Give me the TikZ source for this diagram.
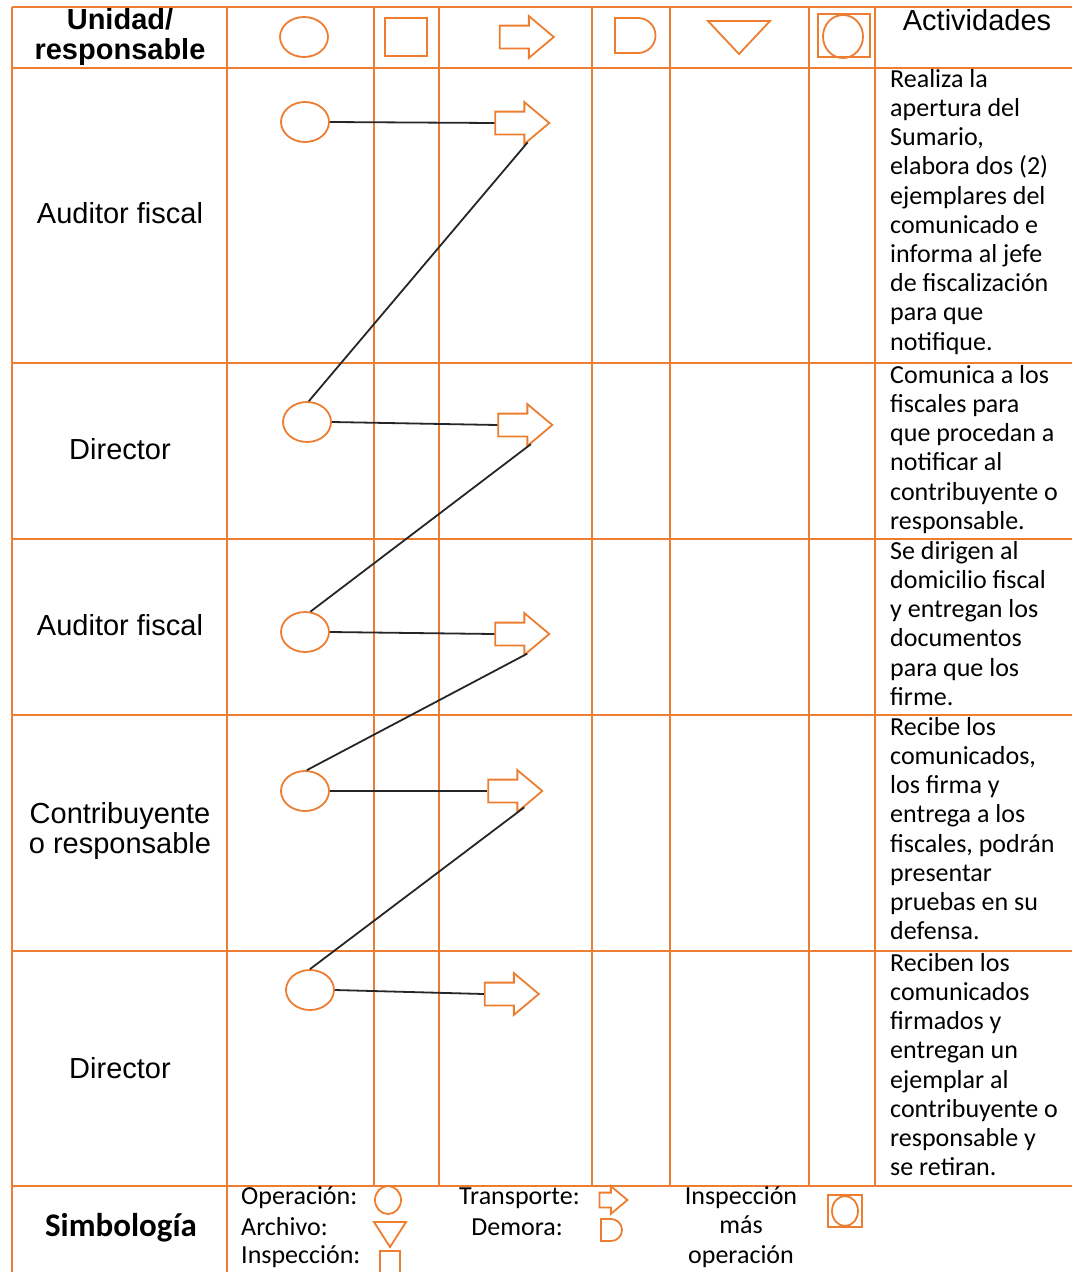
\documentclass[tikz,border=0pt]{standalone}
\usepackage{fontspec}
\setmainfont{Liberation Sans}
\newfontfamily\calibri{Carlito}
\usetikzlibrary{shapes.geometric,shapes.arrows}
\definecolor{naranja}{RGB}{237,125,49}
\definecolor{trazo}{RGB}{38,38,38}
\begin{document}
\begin{tikzpicture}[x=1pt,y=-1pt,
  rejilla/.style={naranja,line width=2.4pt},
  simbolo/.style={draw=naranja,line width=1.8pt,inner sep=0pt},
  operacion/.style={simbolo,ellipse,minimum width=48pt,minimum height=40pt},
  transporte/.style={simbolo,single arrow,minimum height=54pt,inner xsep=0pt,inner ysep=10.5pt,
    single arrow head extend=9.5pt,single arrow tip angle=80},
  enlace/.style={trazo,line width=1.8pt},
  unidad/.style={align=center,font=\fontsize{29}{30}\selectfont},
  actividad/.style={anchor=north west,inner sep=0pt,align=left,font=\calibri\fontsize{26}{29.2}\selectfont},
  leyenda/.style={inner sep=0pt,font=\calibri\fontsize{26}{29.5}\selectfont}]
  \useasboundingbox (0,0) rectangle (1072,1272);
  % table lines
  \foreach \x in {374,439,592,670,809,875}
    \draw[rejilla] (\x,7) -- (\x,1186);
  \foreach \x in {12,227}
    \draw[rejilla] (\x,7) -- (\x,1272);
  \foreach \y in {7,68,363,539,715,951,1186}
    \draw[rejilla] (12,\y) -- (1072,\y);
  % header row
  \node[unidad,font=\bfseries\fontsize{29}{30}\selectfont] (cab) at (120,37) {Unidad/\\responsable};
  \node[operacion] (cabop) at (304,37) {};
  \node[simbolo,rectangle,minimum width=42pt,minimum height=38pt] (cabin) at (406,37) {};
  \node[transporte] (cabtr) at (520,37) {};
  \draw[naranja,line width=1.8pt] (615,18) -- (638,18) arc[start angle=90,end angle=-90,radius=17.5pt] -- (615,53) -- cycle;
  \draw[naranja,line width=1.8pt] (708,21) -- (770,21) -- (739,54) -- cycle;
  \node[simbolo,rectangle,minimum width=52pt,minimum height=43pt] (cabio) at (844,35.5) {};
  \node[simbolo,ellipse,minimum width=40pt,minimum height=43pt] (cabio2) at (843,36.5) {};
  \node[unidad] (act) at (977,20) {Actividades};
  % units
  \node[unidad] (u1) at (120,213) {Auditor fiscal};
  \node[unidad] (u2) at (120,449) {Director};
  \node[unidad] (u3) at (120,625) {Auditor fiscal};
  \node[unidad] (u4) at (120,831) {Contribuyente\\o responsable};
  \node[unidad] (u5) at (120,1068) {Director};
  % operations and transports
  \node[operacion] (op1) at (305,122) {};
  \node[transporte] (tr1) at (515.5,123) {};
  \node[operacion] (op2) at (307,422) {};
  \node[transporte] (tr2) at (518.5,425) {};
  \node[operacion] (op3) at (305,632) {};
  \node[transporte] (tr3) at (515.5,634) {};
  \node[operacion] (op4) at (305,791) {};
  \node[transporte] (tr4) at (508.5,791) {};
  \node[operacion] (op5) at (310,990) {};
  \node[transporte] (tr5) at (505,994) {};
  \foreach \i in {1,...,5}
    \draw[enlace] (op\i.east) -- (tr\i.west);
  \draw[enlace] (op2.85) -- (tr1.-58);
  \draw[enlace] (op3.75) -- (tr2.-57);
  \draw[enlace] (op4.85) -- (tr3.-59);
  \draw[enlace] (op5.90) -- (tr4.-46);
  % activities
  \node[actividad] (a1) at (890,69) {Realiza la\\apertura del\\Sumario,\\elabora dos (2)\\ejemplares del\\comunicado e\\informa al jefe\\de fiscalización\\para que\\notifique.};
  \node[actividad] (a2) at (890,365) {Comunica a los\\fiscales para\\que procedan a\\notificar al\\contribuyente o\\responsable.};
  \node[actividad] (a3) at (890,541) {Se dirigen al\\domicilio fiscal\\y entregan los\\documentos\\para que los\\firme.};
  \node[actividad] (a4) at (890,717) {Recibe los\\comunicados,\\los firma y\\entrega a los\\fiscales, podrán\\presentar\\pruebas en su\\defensa.};
  \node[actividad] (a5) at (890,953) {Reciben los\\comunicados\\firmados y\\entregan un\\ejemplar al\\contribuyente o\\responsable y\\se retiran.};
  % symbols row
  \node[font=\calibri\bfseries\fontsize{33}{34}\selectfont] (simb) at (121,1228) {Simbología};
  \node[leyenda,anchor=west] (lop) at (241,1198) {Operación:};
  \node[leyenda,anchor=west] (lar) at (241,1227) {Archivo:};
  \node[leyenda,anchor=west] (lin) at (241,1257) {Inspección:};
  \node[simbolo,ellipse,minimum width=26pt,minimum height=28pt] (sop) at (388,1200) {};
  \draw[naranja,line width=1.8pt] (374,1222) -- (406,1222) -- (390,1247) -- cycle;
  \draw[naranja,line width=1.8pt] (380,1276) -- (380,1251) -- (400,1251) -- (400,1276);
  \node[leyenda,anchor=east] (ltr) at (580,1198) {Transporte:};
  \node[leyenda,anchor=east] (lde) at (563,1227) {Demora:};
  \node[simbolo,single arrow,minimum height=28pt,inner xsep=0pt,inner ysep=6.5pt,
    single arrow head extend=6.5pt,single arrow tip angle=80] (str) at (609,1200) {};
  \draw[naranja,line width=1.8pt] (601,1219) -- (611,1219) arc[start angle=90,end angle=-90,radius=11pt] -- (601,1241) -- cycle;
  \node[leyenda,align=center] (lio) at (741,1227) {Inspección\\más\\operación};
  \node[simbolo,rectangle,minimum width=34pt,minimum height=32pt] (sio) at (845,1211) {};
  \node[simbolo,ellipse,minimum width=26pt,minimum height=30pt] (sio2) at (845,1211) {};
\end{tikzpicture}
\end{document}
